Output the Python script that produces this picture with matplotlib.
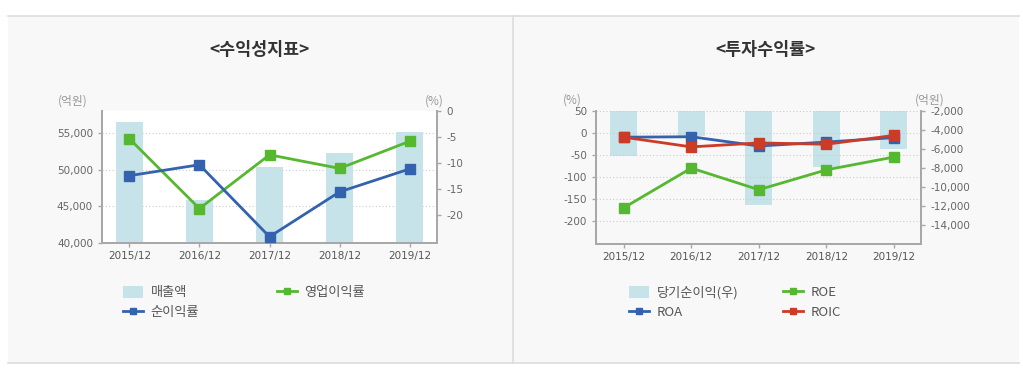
import matplotlib
matplotlib.use('Agg')
import matplotlib.pyplot as plt
from matplotlib.patches import Rectangle, Patch
from matplotlib.lines import Line2D
import numpy as np

plt.rcParams['font.family'] = ['DejaVu Sans', 'Noto Sans CJK KR']

years = ['2015/12', '2016/12', '2017/12', '2018/12', '2019/12']

# <수익성지표>
sales = [56500, 45860, 50370, 52280, 55130]          # 매출액 (억원)
op_margin = [-5.3, -18.7, -8.4, -11.0, -5.8]          # 영업이익률 (%)
net_margin = [-12.4, -10.3, -24.1, -15.5, -11.1]      # 순이익률 (%)

# <투자수익률>
net_income = [-6790, -4690, -11870, -7940, -6010]     # 당기순이익 (억원)
roa = [-10, -9, -30, -21, -11]
roe = [-170, -80, -129, -84, -55]
roic = [-10, -32, -23, -26, -6]

BAR = '#c6e3ea'
GREEN = '#56b830'
BLUE = '#3462ad'
RED = '#cc3b26'
SPINE = '#a8a8a8'
TICK = '#666666'

W, H = 1023, 375
fig = plt.figure(figsize=(W / 100, H / 100), dpi=100)
fig.patch.set_facecolor('white')

# panel background and frame
fig.patches.append(Rectangle((8 / W, 1 - 363 / H), (1019 - 8) / W, (363 - 16) / H,
                             transform=fig.transFigure, facecolor='#f8f8f8',
                             edgecolor='none', zorder=-10))
for yy in (16, 363):
    fig.lines.append(Line2D([8 / W, 1019 / W], [1 - yy / H] * 2, transform=fig.transFigure,
                            color='#dddddd', lw=1.2, zorder=-5))
fig.lines.append(Line2D([513 / W] * 2, [1 - 16 / H, 1 - 363 / H], transform=fig.transFigure,
                        color='#dddddd', lw=1.2, zorder=-5))


def style(ax):
    ax.spines['top'].set_visible(False)
    for s in ('left', 'right', 'bottom'):
        ax.spines[s].set_color(SPINE)
        ax.spines[s].set_linewidth(1.3)
    ax.tick_params(colors=SPINE, labelcolor=TICK, labelsize=7.5, length=3, width=1)
    ax.tick_params(axis='x', labelcolor='#555555', pad=3)


x = np.arange(len(years))
leg_kw = dict(ncol=2, loc='upper left', frameon=False, labelcolor='#555555',
              handlelength=1.5, handleheight=1.0, handletextpad=0.6, labelspacing=0.5,
              prop={'family': 'Noto Sans CJK KR', 'size': 9.5})

# ---------- left chart ----------
ax1 = fig.add_axes([102 / W, 1 - 243 / H, 335 / W, 132 / H])
ax1.set_facecolor('white')
ax1.bar(x, sales, width=0.39, color=BAR, zorder=2)
ax1.set_ylim(40000, 58000)
ax1.set_yticks([40000, 45000, 50000, 55000])
ax1.set_yticklabels([f'{v:,}' for v in [40000, 45000, 50000, 55000]])
ax1.set_xlim(-0.39, 4.39)
ax1.set_xticks(x)
ax1.set_xticklabels(years)
ax1.grid(axis='y', color='#cccccc', ls=(0, (1, 2)), lw=0.8, zorder=0)
style(ax1)

ax1r = ax1.twinx()
ax1r.plot(x, op_margin, color=GREEN, lw=2, marker='s', ms=6.5, zorder=3)
ax1r.plot(x, net_margin, color=BLUE, lw=2, marker='s', ms=6.5, zorder=3)
ax1r.set_ylim(-25.3, 0)
ax1r.set_yticks([0, -5, -10, -15, -20])
ax1r.set_yticklabels(['0', '-5', '-10', '-15', '-20'])
style(ax1r)

fig.text(260 / W, 1 - 50 / H, '<수익성지표>', ha='center', va='center', fontsize=12.5,
         fontweight='bold', color='#333333', family=['Noto Sans CJK KR'])
fig.text(73 / W, 1 - 101 / H, '(억원)', ha='center', va='center', fontsize=8.5,
         color='#999999', family=['Noto Sans CJK KR'])
fig.text(434 / W, 1 - 101 / H, '(%)', ha='center', va='center', fontsize=8.5,
         color='#999999', family=['Noto Sans CJK KR'])

h1 = [Patch(facecolor=BAR, edgecolor='none'),
      Line2D([], [], color=BLUE, lw=2, marker='s', ms=5),
      Line2D([], [], color=GREEN, lw=2, marker='s', ms=5)]
fig.legend(h1, ['매출액', '순이익률', '영업이익률'], bbox_to_anchor=(111 / W, 1 - 274 / H),
           columnspacing=5.9, **leg_kw)

# ---------- right chart ----------
ax2 = fig.add_axes([596 / W, 1 - 244 / H, 325 / W, 133.3 / H])
ax2.set_ylim(-252, 50)
ax2.set_yticks([50, 0, -50, -100, -150, -200])
ax2.set_yticklabels(['50', '0', '-50', '-100', '-150', '-200'])
ax2.set_xlim(-0.41, 4.4)
ax2.set_xticks(x)
ax2.set_xticklabels(years)
ax2.grid(axis='y', color='#cccccc', ls=(0, (1, 2)), lw=0.8, zorder=0)
style(ax2)

ax2r = ax2.twinx()
ax2r.set_facecolor('white')
ax2r.bar(x, net_income, width=0.4, color=BAR, zorder=2)
ax2r.set_ylim(-16000, -2000)
rt = [-2000, -4000, -6000, -8000, -10000, -12000, -14000]
ax2r.set_yticks(rt)
ax2r.set_yticklabels([f'{v:,}' for v in rt])
style(ax2r)

ax2.set_zorder(ax2r.get_zorder() + 1)
ax2.patch.set_visible(False)
ax2.plot(x, roe, color=GREEN, lw=2, marker='s', ms=6.5, zorder=3)
ax2.plot(x, roa, color=BLUE, lw=2, marker='s', ms=6.5, zorder=3)
ax2.plot(x, roic, color=RED, lw=2, marker='s', ms=6.5, zorder=4)

fig.text(765 / W, 1 - 50 / H, '<투자수익률>', ha='center', va='center', fontsize=12.5,
         fontweight='bold', color='#333333', family=['Noto Sans CJK KR'])
fig.text(572 / W, 1 - 100 / H, '(%)', ha='center', va='center', fontsize=8.5,
         color='#999999', family=['Noto Sans CJK KR'])
fig.text(930 / W, 1 - 100 / H, '(억원)', ha='center', va='center', fontsize=8.5,
         color='#999999', family=['Noto Sans CJK KR'])

h2 = [Patch(facecolor=BAR, edgecolor='none'),
      Line2D([], [], color=BLUE, lw=2, marker='s', ms=5),
      Line2D([], [], color=GREEN, lw=2, marker='s', ms=5),
      Line2D([], [], color=RED, lw=2, marker='s', ms=5)]
fig.legend(h2, ['당기순이익(우)', 'ROA', 'ROE', 'ROIC'], bbox_to_anchor=(617 / W, 1 - 274 / H),
           columnspacing=3.4, **leg_kw)

fig.savefig('out.png', dpi=100)
